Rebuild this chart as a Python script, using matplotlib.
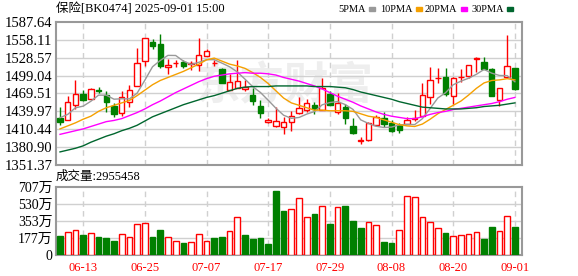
import numpy as np
from matplotlib import pyplot as plt
from matplotlib.patches import Rectangle

plt.rcParams['font.family'] = ['Liberation Serif', 'Noto Sans CJK SC', 'DejaVu Sans']

# ---- data ----
opens = [1428.5, 1425.3, 1450.2, 1469.2, 1460.5, 1475.7, 1467.6, 1448.6, 1437.8, 1455.6,
         1482.2, 1522.8, 1555.3, 1550.5, 1513.1, 1519.5, 1521.7, 1518.5, 1516.1, 1531.2,
         1519.8, 1509.3, 1475.7, 1478.4, 1476.8, 1467.6, 1449.0, 1421.6, 1415.0, 1414.6,
         1423.0, 1436.7, 1441.8, 1450.9, 1441.8, 1468.8, 1439.0, 1447.2, 1415.7, 1391.5,
         1392.9, 1417.4, 1429.3, 1421.0, 1417.0, 1419.0, 1427.0, 1431.9, 1463.3, 1495.5,
         1497.5, 1465.0, 1496.0, 1498.7, 1527.0, 1521.9, 1510.5, 1459.1, 1497.0, 1512.2]
highs = [1447.5, 1465.9, 1491.9, 1475.7, 1479.0, 1479.5, 1473.0, 1454.0, 1473.0, 1484.0,
         1544.5, 1561.3, 1559.6, 1568.6, 1526.1, 1525.5, 1525.5, 1523.4, 1562.0, 1543.1,
         1524.5, 1512.0, 1501.7, 1525.5, 1491.9, 1478.4, 1458.0, 1428.5, 1448.0, 1430.0,
         1440.0, 1464.4, 1460.7, 1455.3, 1495.9, 1474.3, 1469.9, 1452.6, 1429.8, 1397.2,
         1422.8, 1434.7, 1439.0, 1425.5, 1421.0, 1430.9, 1442.0, 1487.6, 1513.6, 1512.2,
         1512.2, 1497.4, 1510.6, 1516.6, 1530.0, 1530.0, 1512.2, 1478.0, 1566.0, 1512.2]
lows = [1417.2, 1425.3, 1443.2, 1456.7, 1460.5, 1470.3, 1438.8, 1430.7, 1432.3, 1447.5,
        1482.2, 1515.2, 1543.4, 1512.0, 1501.2, 1513.6, 1512.0, 1508.2, 1506.9, 1531.2,
        1514.7, 1486.5, 1475.7, 1478.4, 1473.0, 1449.7, 1429.8, 1420.4, 1414.0, 1402.5,
        1408.0, 1436.3, 1439.0, 1435.3, 1441.8, 1449.9, 1435.3, 1418.4, 1402.7, 1386.3,
        1390.2, 1416.0, 1414.7, 1406.4, 1405.0, 1419.0, 1424.0, 1431.9, 1451.4, 1486.8,
        1465.0, 1451.4, 1487.8, 1495.9, 1505.8, 1509.5, 1465.0, 1448.2, 1497.0, 1475.4]
closes = [1422.6, 1455.6, 1469.2, 1459.4, 1476.8, 1473.0, 1455.1, 1436.1, 1463.2, 1475.7,
          1520.6, 1561.3, 1547.8, 1515.2, 1517.4, 1520.0, 1515.2, 1519.5, 1532.8, 1539.3,
          1520.2, 1486.5, 1489.2, 1490.3, 1479.5, 1457.8, 1437.5, 1425.3, 1424.2, 1421.9,
          1432.0, 1446.0, 1453.6, 1444.5, 1478.0, 1450.9, 1454.2, 1428.2, 1404.9, 1391.8,
          1421.1, 1430.9, 1418.4, 1408.0, 1409.5, 1425.5, 1429.0, 1467.6, 1492.0, 1495.9,
          1468.8, 1495.9, 1497.0, 1516.6, 1527.5, 1509.5, 1465.0, 1478.0, 1514.9, 1477.0]

ma5 = [1429.5, 1435.0, 1445.9, 1448.6, 1456.7, 1466.8, 1466.7, 1460.1, 1460.8, 1460.6,
       1470.1, 1491.4, 1513.7, 1524.1, 1532.5, 1532.3, 1523.1, 1517.5, 1521.0, 1525.4,
       1525.4, 1519.7, 1513.6, 1505.1, 1493.1, 1480.7, 1471.2, 1458.4, 1445.2, 1433.6,
       1428.5, 1429.9, 1435.5, 1439.6, 1450.8, 1454.6, 1456.2, 1451.2, 1443.2, 1426.0,
       1420.0, 1415.4, 1413.4, 1414.0, 1417.6, 1418.5, 1418.1, 1427.9, 1444.7, 1462.0,
       1470.7, 1484.0, 1489.9, 1494.8, 1501.2, 1509.3, 1503.1, 1499.3, 1499.0, 1488.9]
ma10 = [1411, 1416, 1421, 1427, 1432, 1440, 1446, 1450, 1454, 1458,
        1466, 1475, 1484, 1491, 1496, 1501, 1506, 1512, 1518, 1525,
        1528, 1523, 1518, 1515, 1511, 1504, 1496, 1486, 1474, 1462,
        1454, 1450, 1446, 1442, 1442, 1441, 1441, 1441, 1440, 1436,
        1432, 1430, 1426, 1422, 1418, 1416, 1415, 1419, 1427, 1436,
        1443, 1450, 1457, 1467, 1478, 1487, 1491, 1492, 1494, 1492]
ma20 = [1402, 1405, 1408, 1411, 1415, 1419, 1423, 1425, 1428, 1433,
        1438, 1444, 1451, 1457, 1464, 1471, 1477, 1483, 1489, 1494,
        1498, 1500, 1502, 1503, 1504, 1503, 1503, 1502, 1500, 1496,
        1493, 1490, 1486, 1482, 1477, 1471, 1465, 1460, 1455, 1449,
        1444, 1439, 1435, 1432, 1430, 1428, 1428, 1431, 1435, 1438,
        1440, 1443, 1445, 1447, 1449, 1451, 1453, 1456, 1460, 1463]
ma30 = [1373, 1376, 1379, 1383, 1389, 1394, 1399, 1403, 1408, 1412,
        1417, 1424, 1431, 1436, 1441, 1446, 1451, 1455, 1459, 1463,
        1466, 1470, 1474, 1478, 1480, 1481, 1481, 1481, 1482, 1482,
        1482, 1482, 1482, 1481, 1481, 1481, 1480, 1479, 1476, 1472,
        1469, 1466, 1463, 1460, 1456, 1453, 1450, 1447, 1446, 1445,
        1444, 1444, 1444, 1445, 1446, 1448, 1449, 1450, 1452, 1454]

# volume in 万, 1 = red (close above previous close)
volume = [196.6, 234.5, 255.2, 206.9, 224.2, 186.2, 175.9, 144.9, 213.8, 182.8,
          320.8, 327.7, 186.2, 258.7, 182.8, 141.4, 124.2, 131.1, 213.8, 141.4,
          175.9, 186.2, 244.9, 400.1, 206.9, 165.6, 175.9, 113.8, 662.2, 455.3,
          482.9, 596.7, 400.1, 424.2, 513.9, 320.8, 503.6, 507.0, 351.8, 279.4,
          338.0, 307.0, 134.5, 124.2, 255.2, 617.4, 607.0, 400.1, 338.0, 275.9,
          227.6, 193.1, 203.5, 213.8, 234.5, 165.6, 289.7, 244.9, 410.4, 295.5458]
vol_up = [0, 1, 1, 0, 1, 0, 0, 0, 1, 1, 1, 1, 0, 0, 1, 1, 0, 1, 1, 1,
          0, 0, 1, 1, 0, 0, 0, 0, 0, 0, 1, 1, 1, 0, 1, 0, 1, 0, 0, 0,
          1, 1, 0, 0, 1, 1, 1, 1, 1, 1, 0, 1, 1, 1, 1, 0, 0, 1, 1, 0]

price_ticks = [1351.37, 1380.90, 1410.44, 1439.97, 1469.51, 1499.04, 1528.57, 1558.11, 1587.64]
vol_ticks = [0, 177, 353, 530, 707]
vol_tick_labels = ['0', '177万', '353万', '530万', '707万']
date_pos = [3, 11, 19, 27, 35, 43, 51, 59]
date_labels = ['06-13', '06-25', '07-07', '07-17', '07-29', '08-08', '08-20', '09-01']

title = '保险[BK0474] 2025-09-01 15:00'
vol_title = '成交量:2955458'

RED = '#ff0000'
GREEN = '#008000'
GRID = '#d0d0d0'
FRAME = '#999999'

W, H = 578, 276


def rect(l, t, r, b):
    return [l / W, 1 - b / H, (r - l) / W, (b - t) / H]


fig = plt.figure(figsize=(W / 100, H / 100), dpi=100)
ax = fig.add_axes(rect(56, 22, 522, 165))
axv = fig.add_axes(rect(56, 187, 522, 255))

x = np.arange(len(closes))
o = np.array(opens)
c = np.array(closes)
up = c >= o

for a in (ax, axv):
    a.set_xlim(-0.52, 59.92)
    for s in a.spines.values():
        s.set_color(FRAME)
        s.set_linewidth(1.5)
    a.tick_params(length=0, pad=2.5)
    a.set_xticks(date_pos)
    for p in date_pos:
        a.axvline(p, color=GRID, lw=1, ls=(0, (4, 3)), zorder=0.5)
    a.set_axisbelow(True)

# watermark
ax.text(0.49, 0.55, '东方财富', transform=ax.transAxes, ha='center', va='center',
        fontsize=32, fontweight='bold', style='italic', color='#eeeeee',
        family=['Noto Sans CJK SC'], zorder=0.2)

# price panel
ax.set_ylim(price_ticks[0], price_ticks[-1])
ax.set_yticks(price_ticks)
ax.set_yticklabels(['%.2f' % v for v in price_ticks], fontsize=10.5)
for v in price_ticks[1:-1]:
    ax.axhline(v, color=GRID, lw=1, zorder=0.5)
ax.set_xticklabels([])

ax.vlines(x, lows, highs, color=np.where(up, RED, GREEN), lw=1, zorder=2)
body = np.maximum(np.abs(c - o), 0.4)
ax.bar(x, body, bottom=np.minimum(o, c), width=0.7,
       color=np.where(up, 'white', GREEN), edgecolor=np.where(up, RED, GREEN),
       lw=1, zorder=3)

ax.plot(x, ma5, color='#999999', lw=1, zorder=4)
ax.plot(x, ma10, color='#f5a000', lw=1, zorder=4)
ax.plot(x, ma20, color='#ff00ff', lw=1, zorder=4)
ax.plot(x, ma30, color='#00662e', lw=1, zorder=4)

# volume panel
vu = np.array(vol_up) == 1
axv.set_ylim(0, 707)
axv.set_yticks(vol_ticks)
axv.set_yticklabels(vol_tick_labels, fontsize=10)
for v in vol_ticks[1:-1]:
    axv.axhline(v, color=GRID, lw=1, zorder=0.5)
axv.bar(x, volume, width=0.74, color=np.where(vu, 'white', GREEN),
        edgecolor=np.where(vu, RED, GREEN), lw=1, zorder=3)
axv.set_xticklabels(date_labels, color=RED, fontsize=9)
axv.tick_params(axis='x', pad=5)

# texts
fig.text(56 / W, 1 - 9 / H, title, ha='left', va='center', fontsize=9)
fig.text(56 / W, 1 - 177 / H, vol_title, ha='left', va='center', fontsize=9)

legend = [('5PMA', '#999999', 338), ('10PMA', '#f5a000', 380),
          ('20PMA', '#ff00ff', 425), ('30PMA', '#00662e', 471)]
for name, col, lx in legend:
    t = fig.text(lx / W, 1 - 9 / H, name, ha='left', va='center', fontsize=7.5)
    fig.canvas.draw()
    bb = t.get_window_extent()
    fig.patches.append(Rectangle(((bb.x1 + 3) / W, 1 - 10.5 / H), 6 / W, 3 / H,
                                 transform=fig.transFigure, color=col))

fig.savefig('out.png', dpi=100)
